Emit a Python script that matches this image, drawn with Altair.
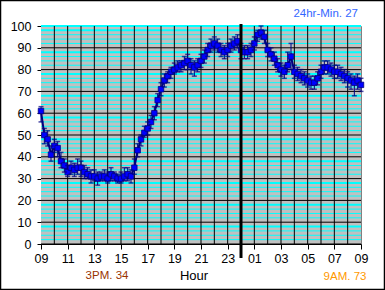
import altair as alt
import pandas as pd

# hours after 09:00
hours = [0.00, 0.25, 0.50, 0.75, 1.00, 1.25, 1.50, 1.75, 2.00, 2.25, 2.50, 2.75,
         3.00, 3.25, 3.50, 3.75, 4.00, 4.25, 4.50, 4.75, 5.00, 5.25, 5.50, 5.75,
         6.00, 6.25, 6.50, 6.75, 7.00, 7.25, 7.50, 7.75, 8.00, 8.25, 8.50, 8.75,
         9.00, 9.25, 9.50, 9.75, 10.00, 10.25, 10.50, 10.75, 11.00, 11.25, 11.50, 11.75,
         12.00, 12.25, 12.50, 12.75, 13.00, 13.25, 13.50, 13.75, 14.00, 14.25, 14.50, 14.75,
         15.00, 15.25, 15.50, 15.75, 16.00, 16.25, 16.50, 16.75, 17.00, 17.25, 17.50, 17.75,
         18.00, 18.25, 18.50, 18.75, 19.00, 19.25, 19.50, 19.75, 20.00, 20.25, 20.50, 20.75,
         21.00, 21.25, 21.50, 21.75, 22.00, 22.25, 22.50, 22.75, 23.00, 23.25, 23.50, 23.75, 24.00]
values = [61, 50, 48, 41, 45, 44, 38, 36, 33, 35, 34, 35,
          35, 33, 32, 31, 31, 30, 31, 31, 30, 32, 31, 30,
          30, 31, 32, 31, 35, 43, 48, 51, 53, 56, 60, 66,
          71, 75, 77, 79, 80, 81, 82, 83, 84, 82, 81, 82,
          84, 86, 89, 91, 92, 91, 89, 88, 89, 91, 92, 93,
          89, 88, 88, 89, 92, 96, 97, 95, 89, 87, 85, 82,
          80, 79, 82, 86, 79, 78, 77, 76, 75, 74, 74, 76,
          79, 81, 81, 80, 79, 79, 78, 77, 76, 75, 74, 75, 73]
lows = [56, 46, 45, 38, 42, 40, 35, 33, 31, 32, 31, 32,
        31, 30, 30, 28, 29, 27, 29, 29, 28, 29, 29, 28,
        28, 29, 29, 28, 32, 40, 45, 49, 50, 53, 57, 63,
        68, 72, 74, 76, 78, 79, 79, 80, 80, 78, 77, 79,
        81, 83, 86, 88, 89, 88, 86, 85, 86, 88, 89, 90,
        85, 85, 85, 86, 89, 93, 94, 92, 86, 84, 82, 79,
        77, 76, 79, 80, 76, 75, 74, 73, 72, 71, 71, 73,
        76, 78, 78, 77, 76, 76, 75, 74, 72, 71, 68, 71, 70]
highs = [63, 53, 52, 45, 48, 47, 42, 39, 36, 38, 37, 39,
         38, 36, 35, 34, 34, 33, 33, 34, 33, 35, 33, 32,
         33, 35, 35, 34, 39, 46, 50, 54, 56, 59, 63, 69,
         74, 78, 79, 81, 83, 84, 84, 86, 87, 85, 84, 85,
         87, 89, 92, 94, 95, 94, 92, 91, 92, 94, 95, 96,
         92, 91, 91, 92, 95, 98, 100, 98, 92, 90, 88, 85,
         83, 82, 88, 92, 82, 81, 80, 79, 78, 77, 77, 79,
         82, 84, 84, 83, 82, 82, 81, 80, 79, 78, 77, 78, 76]

y_major = [0, 10, 20, 30, 40, 50, 60, 70, 80, 90]
y_minor = [v for v in range(2, 101, 2) if v % 10 != 0] + [100]
hour_lines = list(range(1, 24))
x_tick_values = list(range(0, 25, 2))

FONT = "Liberation Sans"

df = pd.DataFrame({"h": hours, "v": values, "lo": lows, "hi": highs})
minor_df = pd.DataFrame({"v": y_minor,
                         "w": [2 if (v % 10 == 8 or v == 100) else 1 for v in y_minor]})
major_df = pd.DataFrame({"v": y_major})
vline_df = pd.DataFrame({"h": hour_lines})
one = pd.DataFrame({"a": [0]})

xs = alt.Scale(domain=[0, 24], nice=False, zero=False)
ys = alt.Scale(domain=[0, 100], nice=False)

xaxis = alt.Axis(values=x_tick_values, grid=False, tickSize=5, tickColor="black",
                 domainColor="black", labelFont=FONT, labelFontSize=12.5,
                 labelColor="black", labelPadding=3, title=None, labelFlush=False,
                 labelExpr="(((9 + datum.value) % 24) < 10 ? '0' : '') + ((9 + datum.value) % 24)")
yaxis = alt.Axis(values=list(range(0, 101, 10)), grid=False, tickSize=4, tickColor="black",
                 domainColor="black", labelFont=FONT, labelFontSize=12.5,
                 labelColor="black", labelPadding=6, title=None, labelFlush=False)


def X(field):
    return alt.X(field, type="quantitative", scale=xs, axis=xaxis)


def Y(field):
    return alt.Y(field, type="quantitative", scale=ys, axis=yaxis)


bg = alt.Chart(one).mark_rect(color="#c0c0c0").encode(
    x=alt.value(0), x2=alt.value(320), y=alt.value(0), y2=alt.value(218))
cyan = alt.Chart(minor_df).mark_rule(color="#00ffff").encode(
    y=Y("v"), strokeWidth=alt.StrokeWidth("w:Q", scale=None, legend=None))
hblack = alt.Chart(major_df).mark_rule(color="black", strokeWidth=1).encode(y=Y("v"))
vblack = alt.Chart(vline_df).mark_rule(color="black", strokeWidth=1).encode(x=X("h"))
midnight = alt.Chart(pd.DataFrame({"h": [15]})).mark_rule(color="black", strokeWidth=3).encode(
    x=X("h"), y=alt.value(-2), y2=alt.value(232))

whisk = alt.Chart(df).mark_rule(color="#000080", strokeWidth=1).encode(
    x=X("h"), y=Y("lo"), y2="hi")
cap_lo = alt.Chart(df).mark_tick(color="#000080", size=5, thickness=1.5, orient="horizontal").encode(
    x=X("h"), y=Y("lo"))
cap_hi = alt.Chart(df).mark_tick(color="#000080", size=5, thickness=1.5, orient="horizontal").encode(
    x=X("h"), y=Y("hi"))
line = alt.Chart(df).mark_line(color="#000080", strokeWidth=2).encode(x=X("h"), y=Y("v"))
pts = alt.Chart(df).mark_point(shape="square", filled=True, color="#0000ff", size=30,
                               stroke="#000080", strokeWidth=0.8, opacity=1).encode(
    x=X("h"), y=Y("v"))


def label(text, px, py, color, size=11.5, align="center"):
    return alt.Chart(one).mark_text(text=text, font=FONT, fontSize=size, color=color,
                                    align=align, baseline="middle").encode(
        x=alt.value(px - 41), y=alt.value(py - 26))


t1 = label("24hr-Min. 27", 358, 14, "#3366ff", 11.5, "right")
t2 = label("3PM. 34", 107, 276, "#993300", 11.5)
t3 = label("Hour", 194, 276, "black", 13)
t4 = label("9AM. 73", 345, 277, "#ff9900", 11.5)

frame = alt.Chart(one).mark_rect(fill=None, stroke="black", strokeWidth=1.5).encode(
    x=alt.value(-40.5), x2=alt.value(343.5), y=alt.value(-25.5), y2=alt.value(263.5))

chart = alt.layer(bg, cyan, hblack, vblack, whisk, line, pts, cap_lo, cap_hi, midnight,
                  t1, t2, t3, t4, frame).properties(
    width=320, height=218,
    padding={"left": 41, "top": 26, "right": 24, "bottom": 46},
    autosize=alt.AutoSizeParams(type="none"),
    background="white",
).configure_view(fill="#c0c0c0", stroke="#808080", strokeWidth=1)

chart.save("out.html", embed_options={"renderer": "svg", "actions": False})
